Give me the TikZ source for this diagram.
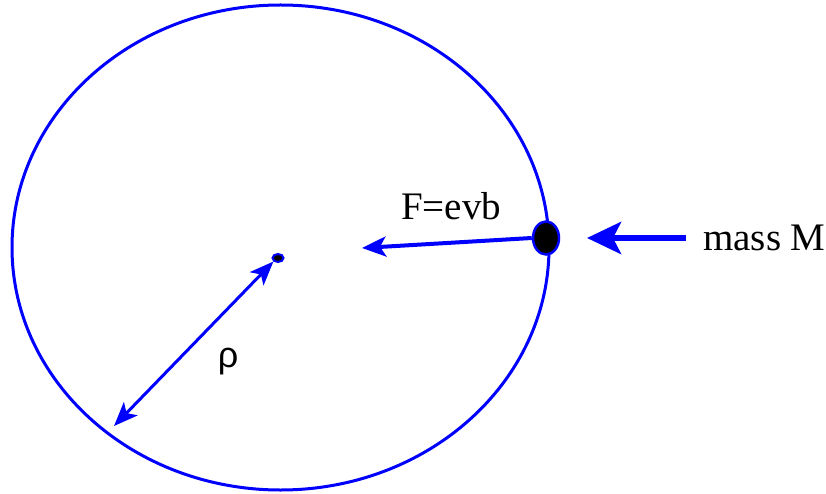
\documentclass[tikz,border=0pt]{standalone}
\usepackage{fontspec}
\setmainfont{Liberation Serif}
\newfontfamily\rhofont{Liberation Sans}
\usetikzlibrary{arrows.meta,shapes.geometric}
\definecolor{myblue}{RGB}{0,0,255}
\begin{document}
\begin{tikzpicture}[x=1pt,y=-1pt,
  bluepen/.style={draw=myblue, line width=3pt},
  farrow/.style={myblue, line width=4pt, -{Stealth[length=24pt,width=20pt,inset=6pt]}},
  marrow/.style={myblue, line width=6pt, -{Stealth[length=34pt,width=32pt,inset=8pt]}},
  rarrow/.style={myblue, line width=3pt, {Stealth[length=24pt,width=19pt,inset=6pt]}-{Stealth[length=24pt,width=19pt,inset=6pt]}},
  lbl/.style={font=\fontsize{39}{44}\selectfont, inner sep=0pt}]
\useasboundingbox (0,0) rectangle (826,494);
\node[bluepen, ellipse, inner sep=0pt, outer sep=0pt, minimum width=537pt, minimum height=485pt] (orbit) at (280.5,247.5) {};
\node[ellipse, draw=myblue, line width=2pt, fill=black, inner sep=0pt, minimum width=11pt, minimum height=8pt] (dot) at (278,258) {};
\node[ellipse, draw=myblue, line width=2.5pt, fill=black, inner sep=0pt, minimum width=26pt, minimum height=33pt] (ball) at (546,238) {};
\coordinate (ftip) at (362,248);
\coordinate (mstart) at (686,238);
\coordinate (mtip) at (587,238);
\coordinate (rend) at (114,426);
\draw[farrow] (ball.west) -- (ftip);
\draw[marrow] (mstart) -- (mtip);
\draw[rarrow] (rend) -- (dot.south west);
\node[lbl] (flabel) at (451,206) {F=evb};
\node[lbl, anchor=west] (mlabel) at (703,238) {mass M};
\node[font=\rhofont\fontsize{36}{40}\selectfont, inner sep=0pt] (rho) at (228,362) {ρ};
\end{tikzpicture}
\end{document}
